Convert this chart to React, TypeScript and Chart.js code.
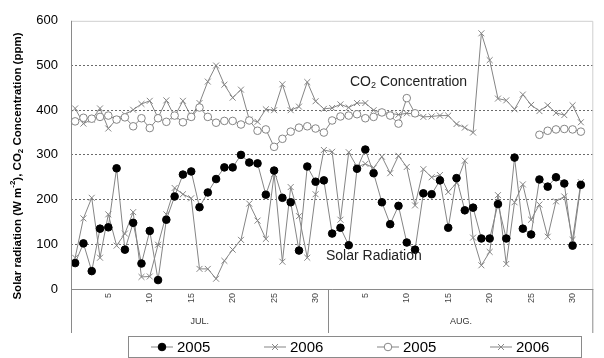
import React, { useEffect, useRef } from 'react';
import { Chart, registerables } from 'chart.js';

Chart.register(...registerables);

const julyDays = [1,2,3,4,5,6,7,8,9,10,11,12,13,14,15,16,17,18,19,20,21,22,23,24,25,26,27,28,29,30,31];
const augustDays = [1,2,3,4,5,6,7,8,9,10,11,12,13,14,15,16,17,18,19,20,21,22,23,24,25,26,27,28,29,30,31];
const monthNames = ['JUL.', 'AUG.'];
const yTicks = [0, 100, 200, 300, 400, 500, 600];

const solar2005 = [58,102,40,135,138,270,88,148,57,130,20,155,207,256,263,183,216,246,272,272,300,283,281,211,265,204,194,86,274,240,243,
  124,137,98,269,312,259,194,145,186,104,88,214,212,243,137,248,176,182,113,113,190,113,294,135,122,245,229,250,236,97,233];
const solar2006 = [70,158,204,70,167,97,124,172,27,28,99,167,226,212,203,45,45,23,63,88,110,191,153,112,257,61,228,163,70,212,311,
  307,155,306,273,280,271,296,259,298,273,187,268,250,255,217,237,287,115,53,83,210,56,194,234,155,189,117,196,207,110,239];
const co2_2005 = [375,383,381,385,388,379,384,364,382,360,382,374,388,373,385,406,385,372,376,376,368,377,354,357,318,336,352,361,364,359,350,
  377,386,388,391,382,385,395,388,370,427,393,null,null,null,null,null,null,null,null,null,null,null,null,null,null,345,354,357,358,357,352];
const co2_2006 = [404,370,379,404,359,380,390,401,414,421,383,422,386,421,386,416,464,500,457,428,446,379,374,402,400,458,400,408,463,420,403,
  405,413,406,416,416,400,395,393,390,393,392,385,386,388,388,369,361,350,572,512,426,422,402,435,412,398,411,394,389,411,373];

const seriesNames = ['2005', '2006', '2005', '2006'];

const FONT = '"Liberation Sans", Arial, Helvetica, sans-serif';
const LINE = '#858585';

const labels: string[] = [
  ...julyDays.map((d) => 'JUL.-' + d),
  ...augustDays.map((d) => 'AUG.-' + d),
  '',
];

const withTail = (arr: (number | null)[]) => [...arr, null];

const markerStyles = [
  { style: 'circle', fill: '#000', stroke: '#000', r: 3.8 },
  { style: 'crossRot', fill: LINE, stroke: LINE, r: 4.2 },
  { style: 'circle', fill: '#fff', stroke: LINE, r: 3.8 },
  { style: 'crossRot', fill: LINE, stroke: LINE, r: 4.2 },
];

function drawMarker(ctx: CanvasRenderingContext2D, kind: any, x: number, y: number) {
  ctx.save();
  ctx.lineWidth = 1;
  ctx.strokeStyle = kind.stroke;
  ctx.fillStyle = kind.fill;
  if (kind.style === 'circle') {
    ctx.beginPath();
    ctx.arc(x, y, kind.r, 0, Math.PI * 2);
    ctx.fill();
    ctx.stroke();
  } else {
    const d = kind.r * 0.7071;
    ctx.beginPath();
    ctx.moveTo(x - d, y - d);
    ctx.lineTo(x + d, y + d);
    ctx.moveTo(x - d, y + d);
    ctx.lineTo(x + d, y - d);
    ctx.stroke();
  }
  ctx.restore();
}

function drawRich(ctx: CanvasRenderingContext2D, parts: { t: string; size: number; dy: number; bold?: boolean }[], x: number, y: number, center: boolean) {
  let total = 0;
  const widths = parts.map((p) => {
    ctx.font = `${p.bold ? 'bold ' : ''}${p.size}px ${FONT}`;
    const w = ctx.measureText(p.t).width;
    total += w;
    return w;
  });
  let cx = center ? x - total / 2 : x;
  ctx.textBaseline = 'middle';
  ctx.textAlign = 'left';
  parts.forEach((p, i) => {
    ctx.font = `${p.bold ? 'bold ' : ''}${p.size}px ${FONT}`;
    ctx.fillText(p.t, cx, y + p.dy);
    cx += widths[i];
  });
}

const decorPlugin = {
  id: 'decor',
  afterDraw(chart: any) {
    const { ctx, chartArea: a, scales } = chart;
    const xs = scales.x;
    const bottomY = 333;
    ctx.save();
    ctx.lineWidth = 1;
    // top & right frame (light)
    ctx.strokeStyle = '#cfcfcf';
    ctx.beginPath();
    ctx.moveTo(a.left, a.top + 0.5);
    ctx.lineTo(a.right - 0.5, a.top + 0.5);
    ctx.lineTo(a.right - 0.5, a.bottom);
    ctx.stroke();
    // axes
    ctx.strokeStyle = '#8a8a8a';
    ctx.beginPath();
    ctx.moveTo(a.left + 0.5, a.top);
    ctx.lineTo(a.left + 0.5, bottomY);
    ctx.moveTo(a.left, a.bottom + 0.5);
    ctx.lineTo(a.right, a.bottom + 0.5);
    ctx.stroke();
    // month separators
    const sep = Math.round((xs.getPixelForValue(30) + xs.getPixelForValue(31)) / 2) + 0.5;
    ctx.beginPath();
    ctx.moveTo(sep, a.bottom);
    ctx.lineTo(sep, bottomY);
    ctx.moveTo(a.right - 0.5, a.bottom);
    ctx.lineTo(a.right - 0.5, bottomY);
    ctx.stroke();
    // month labels
    ctx.fillStyle = '#333';
    ctx.font = `9px ${FONT}`;
    ctx.textAlign = 'center';
    ctx.textBaseline = 'middle';
    ctx.fillText(monthNames[0], (a.left + sep) / 2, 322);
    ctx.fillText(monthNames[1], (sep + a.right) / 2, 322);

    // in-plot annotations
    ctx.fillStyle = '#222';
    drawRich(ctx, [
      { t: 'CO', size: 14, dy: 0 },
      { t: '2', size: 9, dy: 4 },
      { t: ' Concentration', size: 14, dy: 0 },
    ], 350, 82, false);
    drawRich(ctx, [{ t: 'Solar Radiation', size: 14, dy: 0 }], 326, 256, false);

    // y-axis title
    ctx.save();
    ctx.translate(18, 166);
    ctx.rotate(-Math.PI / 2);
    ctx.fillStyle = '#000';
    drawRich(ctx, [
      { t: 'Solar radiation (W m', size: 11.5, dy: 0, bold: true },
      { t: '-2', size: 8, dy: -5, bold: true },
      { t: '), CO', size: 11.5, dy: 0, bold: true },
      { t: '2', size: 8, dy: 3, bold: true },
      { t: ' Concentration (ppm)', size: 11.5, dy: 0, bold: true },
    ], 0, 0, true);
    ctx.restore();

    // legend
    const lx = 128.5, ly = 336.5, lw = 453, lh = 21;
    ctx.strokeStyle = '#8a8a8a';
    ctx.strokeRect(lx, ly, lw, lh);
    const cy = ly + lh / 2;
    for (let i = 0; i < 4; i++) {
      const sx = 151 + i * 113;
      ctx.strokeStyle = LINE;
      ctx.beginPath();
      ctx.moveTo(sx, cy);
      ctx.lineTo(sx + 22, cy);
      ctx.stroke();
      drawMarker(ctx, markerStyles[i], sx + 11, cy);
      ctx.fillStyle = '#000';
      ctx.font = `15px ${FONT}`;
      ctx.textAlign = 'left';
      ctx.textBaseline = 'middle';
      ctx.fillText(seriesNames[i], sx + 26, cy + 1);
    }
    ctx.restore();
  },
};

export default function App() {
  const ref = useRef<HTMLCanvasElement>(null);
  useEffect(() => {
    if (!ref.current) return;
    const mk = (data: (number | null)[], i: number) => ({
      label: seriesNames[i],
      data: withTail(data),
      borderColor: LINE,
      borderWidth: 1,
      tension: 0,
      spanGaps: false,
      pointStyle: markerStyles[i].style,
      pointRadius: markerStyles[i].r,
      pointBackgroundColor: markerStyles[i].fill,
      pointBorderColor: markerStyles[i].stroke,
      pointBorderWidth: 1,
      fill: false,
    });
    const chart = new Chart(ref.current, {
      type: 'line',
      data: {
        labels,
        datasets: [mk(solar2005, 0), mk(solar2006, 1), mk(co2_2005, 2), mk(co2_2006, 3)],
      },
      options: {
        animation: false,
        responsive: false,
        devicePixelRatio: 1,
        layout: { padding: { top: 11, right: 4, left: 0, bottom: 0 } },
        plugins: { legend: { display: false }, tooltip: { enabled: false } },
        scales: {
          x: {
            type: 'category',
            offset: true,
            grid: { display: false, drawTicks: false },
            border: { display: false },
            afterFit: (s: any) => { s.height = 69; },
            ticks: {
              autoSkip: false,
              maxRotation: 90,
              minRotation: 90,
              padding: 4,
              color: '#444',
              font: { family: FONT, size: 9 },
              callback: (_v: any, idx: number) => {
                const l = labels[idx] || '';
                const d = l.split('-')[1];
                return d && Number(d) % 5 === 0 ? d : '';
              },
            },
          },
          y: {
            min: 0,
            max: 600,
            afterFit: (s: any) => { s.width = 71; },
            afterBuildTicks: (s: any) => { s.ticks = yTicks.map((v) => ({ value: v })); },
            border: { display: false, dash: [2, 2] },
            grid: {
              drawTicks: false,
              color: (c: any) => (c.tick && (c.tick.value === 0 || c.tick.value === 600) ? 'rgba(0,0,0,0)' : '#6a6a6a'),
              lineWidth: 1,
            },
            ticks: {
              padding: 13,
              color: '#000',
              font: { family: FONT, size: 13 },
            },
          },
        },
      },
      plugins: [decorPlugin],
    } as any);
    return () => chart.destroy();
  }, []);
  return (
    <div style={{ position: 'absolute', left: 0, top: 0, width: 604, height: 358, background: '#fff' }}>
      <canvas ref={ref} width={604} height={358} style={{ width: 604, height: 358 }} />
    </div>
  );
}
